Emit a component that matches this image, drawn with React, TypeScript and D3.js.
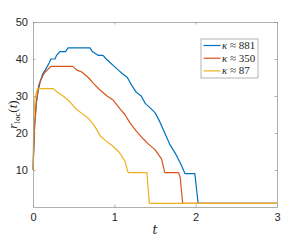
import React, { useRef, useEffect } from 'react'
import { select, scaleLinear, line, axisBottom, axisLeft, axisTop, axisRight } from 'd3'

// series: [t, r_loc]
const tBlue = [0, 0.02, 0.04, 0.06, 0.09, 0.12, 0.15, 0.2, 0.22, 0.27, 0.29, 0.33, 0.4, 0.43, 0.7, 0.73, 0.8, 0.86, 0.9, 0.95, 1.0, 1.05, 1.1, 1.16, 1.21, 1.27, 1.33, 1.38, 1.43, 1.5, 1.56, 1.62, 1.68, 1.75, 1.82, 1.87, 1.99, 2.03, 3]
const rBlue = [10, 22, 28, 31, 34, 36, 37, 39, 40, 40, 41, 42, 42, 43, 43, 42, 41, 41, 40, 39, 38, 37, 36, 35, 33, 31, 30, 28, 27, 25.5, 23, 20, 17, 14.5, 11.5, 9, 9, 1, 1]

const tOrange = [0, 0.02, 0.04, 0.07, 0.12, 0.15, 0.22, 0.49, 0.54, 0.6, 0.68, 0.74, 0.82, 0.91, 0.98, 1.07, 1.13, 1.19, 1.27, 1.36, 1.42, 1.5, 1.58, 1.62, 1.79, 1.81, 1.84, 3]
const rOrange = [10, 22, 28, 33, 35.5, 36.5, 38, 38, 37, 36.5, 35, 33.5, 31.7, 30, 29, 26.5, 25, 22.8, 20.5, 18.3, 17, 15.5, 13, 9.3, 9.3, 8, 1, 1]

const tYellow = [0, 0.01, 0.025, 0.045, 0.06, 0.25, 0.3, 0.37, 0.45, 0.53, 0.6, 0.68, 0.76, 0.83, 0.9, 0.98, 1.06, 1.13, 1.17, 1.4, 1.43, 3]
const rYellow = [10, 24, 29.5, 31.2, 32, 32, 31, 30, 28.5, 26.5, 25.3, 24, 21.8, 19.1, 17.8, 16.5, 14.8, 12.4, 9.3, 9.3, 1, 1]

const legendLabels = ['881', '350', '87']
const colors = ['#0072BD', '#D95319', '#EDB120']
const xTicks = [0, 1, 2, 3]
const yTicks = [10, 20, 30, 40, 50]

function Chart() {
    const svgRef = useRef(null)

    useEffect(() => {
        const svg = select(svgRef.current)
        svg.selectAll('*').remove()

        const left = 33, right = 277, top = 22, bottom = 207

        const xScale = scaleLinear().domain([0, 3]).range([left, right])
        const yScale = scaleLinear().domain([0, 50]).range([bottom, top])

        const series = [
            tBlue.map((t, i) => [t, rBlue[i]]),
            tOrange.map((t, i) => [t, rOrange[i]]),
            tYellow.map((t, i) => [t, rYellow[i]]),
        ]

        svg.append('rect')
            .attr('x', left).attr('y', top)
            .attr('width', right - left).attr('height', bottom - top)
            .attr('fill', 'white')

        const myLine = line()
            .x(d => xScale(d[0]))
            .y(d => yScale(d[1]))

        const plot = svg.append('g')
        series.forEach((s, i) => {
            plot.append('path')
                .datum(s)
                .attr('d', myLine)
                .attr('fill', 'none')
                .attr('stroke', colors[i])
                .attr('stroke-width', 1.2)
                .attr('stroke-linejoin', 'round')
        })

        const tickLen = 2.5
        const styleAxis = (g, labels) => {
            g.select('.domain').attr('stroke', '#9a9a9a').attr('stroke-width', 0.8)
            g.selectAll('.tick line').attr('stroke', '#9a9a9a').attr('stroke-width', 0.8)
            g.selectAll('.tick text')
                .attr('fill', '#262626')
                .style('font-family', 'Liberation Sans, Arial, sans-serif')
                .style('font-size', '11px')
            if (!labels) g.selectAll('.tick text').remove()
        }

        svg.append('g')
            .attr('transform', `translate(0,${bottom})`)
            .call(axisBottom(xScale).tickValues(xTicks).tickSize(-tickLen).tickSizeOuter(0).tickPadding(6).tickFormat(d => String(d)))
            .call(g => styleAxis(g, true))

        svg.append('g')
            .attr('transform', `translate(0,${top})`)
            .call(axisTop(xScale).tickValues(xTicks).tickSize(-tickLen).tickSizeOuter(0))
            .call(g => styleAxis(g, false))

        svg.append('g')
            .attr('transform', `translate(${left},0)`)
            .call(axisLeft(yScale).tickValues(yTicks).tickSize(-tickLen).tickSizeOuter(0).tickPadding(5).tickFormat(d => String(d)))
            .call(g => styleAxis(g, true))

        svg.append('g')
            .attr('transform', `translate(${right},0)`)
            .call(axisRight(yScale).tickValues(yTicks).tickSize(-tickLen).tickSizeOuter(0))
            .call(g => styleAxis(g, false))

        // axis labels (LaTeX look)
        svg.append('text')
            .attr('x', (left + right) / 2)
            .attr('y', 234)
            .attr('text-anchor', 'middle')
            .style('font-family', 'DejaVu Serif, Liberation Serif, serif')
            .style('font-style', 'italic')
            .style('font-size', '12px')
            .attr('fill', '#262626')
            .text('t')

        const yl = svg.append('text')
            .attr('transform', `translate(17,${(top + bottom) / 2}) rotate(-90)`)
            .attr('text-anchor', 'middle')
            .style('font-family', 'Liberation Serif, DejaVu Serif, serif')
            .style('font-size', '13px')
            .attr('fill', '#262626')
        yl.append('tspan').style('font-style', 'italic').text('r')
        yl.append('tspan').attr('dy', 3).style('font-size', '9px').text('loc')
        yl.append('tspan').attr('dy', -3).text('(')
        yl.append('tspan').style('font-style', 'italic').text('t')
        yl.append('tspan').text(')')

        // legend
        const lx = 201, ly = 39, lw = 57, lh = 39
        const legend = svg.append('g')
        legend.append('rect')
            .attr('x', lx).attr('y', ly).attr('width', lw).attr('height', lh)
            .attr('fill', 'white').attr('stroke', '#a0a0a0').attr('stroke-width', 0.8)
        legendLabels.forEach((lab, i) => {
            const yy = ly + 6.5 + i * 12.7
            legend.append('line')
                .attr('x1', lx + 2.5).attr('x2', lx + 19.5)
                .attr('y1', yy).attr('y2', yy)
                .attr('stroke', colors[i]).attr('stroke-width', 1.2)
            const tx = legend.append('text')
                .attr('x', lx + 21).attr('y', yy + 3.5)
                .style('font-family', 'Liberation Serif, DejaVu Serif, serif')
                .style('font-size', '11px')
                .attr('fill', '#262626')
            tx.append('tspan').style('font-style', 'italic').text('κ')
            tx.append('tspan').text(' ≈ ' + lab)
        })
    }, [])

    return (
        <svg ref={svgRef} width="283" height="244"
            style={{ position: 'absolute', left: 0, top: 0, background: 'white' }} />
    )
}

export default function App() {
    return <Chart />
}
